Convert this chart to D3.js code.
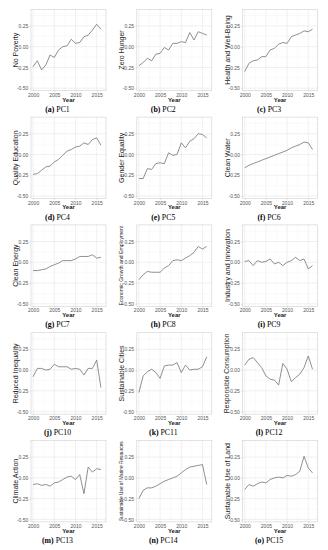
<!DOCTYPE html>
<html><head><meta charset="utf-8">
<script src="https://cdn.jsdelivr.net/npm/d3@7"></script>
<style>body{margin:0;background:#fff}svg{display:block}</style>
</head><body><svg id="c" width="328" height="550"></svg>
<script>
const years = d3.range(2000, 2017);
const axisLabels = ["No Poverty","Zero Hunger","Health and Well-Being","Quality Education","Gender Equality","Clean Water","Clean Energy","Economic Growth and Employment","Industry and Innovation","Reduced Inequality","Sustainable Cities","Responsible Consumption","Climate Action","Sustainable Use of Marine Resources","Sustainable Use of Land"];
const captionLetters = ["(a)","(b)","(c)","(d)","(e)","(f)","(g)","(h)","(i)","(j)","(k)","(l)","(m)","(n)","(o)"];
const captionNames = ["PC1","PC2","PC3","PC4","PC5","PC6","PC7","PC8","PC9","PC10","PC11","PC12","PC13","PC14","PC15"];
const pc1 = [-0.24,-0.17,-0.28,-0.22,-0.10,-0.13,-0.04,0.00,0.01,0.09,0.04,0.05,0.12,0.14,0.20,0.27,0.21];
const pc2 = [-0.23,-0.19,-0.14,-0.17,-0.09,-0.08,-0.01,-0.04,0.04,0.04,0.06,0.05,0.17,0.08,0.18,0.16,0.14];
const pc3 = [-0.30,-0.20,-0.17,-0.16,-0.12,-0.12,-0.04,-0.02,0.03,0.05,0.04,0.12,0.14,0.16,0.19,0.18,0.21];
const pc4 = [-0.24,-0.23,-0.19,-0.15,-0.14,-0.09,-0.06,-0.01,0.04,0.06,0.09,0.10,0.14,0.12,0.18,0.20,0.11];
const pc5 = [-0.29,-0.29,-0.17,-0.18,-0.11,-0.10,-0.11,0.02,-0.01,0.00,0.14,0.08,0.16,0.19,0.25,0.24,0.20];
const pc6 = [-0.16,-0.13,-0.11,-0.09,-0.07,-0.05,-0.03,-0.01,0.01,0.03,0.05,0.08,0.10,0.12,0.15,0.14,0.06];
const pc7 = [-0.10,-0.10,-0.09,-0.08,-0.05,-0.03,-0.01,0.02,0.02,0.02,0.04,0.07,0.07,0.07,0.09,0.05,0.06];
const pc8 = [-0.21,-0.15,-0.11,-0.12,-0.12,-0.12,-0.07,-0.04,0.02,0.03,0.02,0.05,0.08,0.12,0.19,0.16,0.19];
const pc9 = [0.01,0.02,-0.04,0.02,0.00,0.01,0.04,-0.02,0.00,-0.04,0.00,0.02,0.06,0.02,0.04,-0.08,-0.04];
const pc10 = [-0.08,0.02,0.02,0.00,0.01,0.07,0.04,0.04,0.04,0.01,0.02,0.01,-0.06,0.02,0.02,0.12,-0.21];
const pc11 = [-0.27,-0.07,-0.02,0.01,-0.03,-0.10,0.05,0.06,0.06,0.09,-0.03,0.06,0.00,0.01,0.01,0.04,0.16];
const pc12 = [0.06,0.13,0.15,0.09,0.03,-0.07,-0.11,-0.12,-0.18,0.08,0.01,-0.14,-0.09,-0.05,0.03,0.17,0.01];
const pc13 = [-0.08,-0.07,-0.09,-0.08,-0.10,-0.06,-0.05,-0.02,0.01,0.02,-0.02,0.04,-0.19,0.13,0.07,0.11,0.10];
const pc14 = [-0.25,-0.15,-0.12,-0.12,-0.10,-0.07,-0.04,-0.02,0.00,0.02,0.06,0.10,0.13,0.14,0.15,0.16,-0.08];
const pc15 = [-0.14,-0.08,-0.10,-0.07,-0.05,-0.06,-0.02,0.00,0.01,0.00,0.03,0.02,0.04,0.08,0.26,0.12,0.06];
const series = [pc1,pc2,pc3,pc4,pc5,pc6,pc7,pc8,pc9,pc10,pc11,pc12,pc13,pc14,pc15];
const yTicks = [-0.5,-0.25,0,0.25];
const yMinor = [-0.375,-0.125,0.125,0.375];
const xTicks = [2000,2005,2010,2015];
const xMinor = [2002.5,2007.5,2012.5];

const svg = d3.select("#c");
const W = 75, H = 81.4;
const sans = "'Liberation Sans', Arial, sans-serif";
series.forEach((vals, i) => {
  const col = i % 3, row = Math.floor(i / 3);
  const left = 31 + col * 105.8, top = 9.3 + row * 107.8;
  const x = d3.scaleLinear().domain([1999.5, 2017.2]).range([left, left + W]);
  const y = d3.scaleLinear().domain([-0.53, 0.45]).range([top + H, top]);
  const g = svg.append("g");
  g.append("g").selectAll("line").data(yMinor).join("line")
    .attr("x1", left).attr("x2", left + W).attr("y1", d => y(d)).attr("y2", d => y(d))
    .attr("stroke", "#f3f3f3").attr("stroke-width", 0.4);
  g.append("g").selectAll("line").data(xMinor).join("line")
    .attr("y1", top).attr("y2", top + H).attr("x1", d => x(d)).attr("x2", d => x(d))
    .attr("stroke", "#f3f3f3").attr("stroke-width", 0.4);
  g.append("g").selectAll("line").data(yTicks).join("line")
    .attr("x1", left).attr("x2", left + W).attr("y1", d => y(d)).attr("y2", d => y(d))
    .attr("stroke", "#e6e6e6").attr("stroke-width", 0.6);
  g.append("g").selectAll("line").data(xTicks).join("line")
    .attr("y1", top).attr("y2", top + H).attr("x1", d => x(d)).attr("x2", d => x(d))
    .attr("stroke", "#e6e6e6").attr("stroke-width", 0.6);
  g.append("rect").attr("x", left).attr("y", top).attr("width", W).attr("height", H)
    .attr("fill", "none").attr("stroke", "#d0d0d0").attr("stroke-width", 0.6);
  const ya = d3.axisLeft(y).tickValues(yTicks).tickFormat(d => d.toFixed(2)).tickSize(1.5).tickPadding(1.2);
  const yg = g.append("g").attr("transform", `translate(${left},0)`).call(ya);
  const xa = d3.axisBottom(x).tickValues(xTicks).tickFormat(d3.format("d")).tickSize(1.5).tickPadding(1);
  const xg = g.append("g").attr("transform", `translate(0,${top + H})`).call(xa);
  [yg, xg].forEach(a => {
    a.select(".domain").remove();
    a.selectAll(".tick line").attr("stroke", "#c8c8c8").attr("stroke-width", 0.5);
    a.selectAll(".tick text").attr("fill", "#555").style("font-family", sans).style("font-size", "5px");
  });
  xg.selectAll(".tick text").attr("dy", "0.71em");
  const line = d3.line().x((d, j) => x(years[j])).y(d => y(d));
  g.append("path").datum(vals).attr("d", line).attr("fill", "none")
    .attr("stroke", "#747474").attr("stroke-width", 0.8).attr("stroke-linejoin", "round");
  const lab = g.append("text")
    .attr("x", -(top + H / 2)).attr("y", left - 15.5)
    .attr("transform", "rotate(-90)")
    .attr("text-anchor", "middle").attr("dy", "0.35em")
    .style("font-family", sans).style("font-size", "7px")
    .attr("fill", "#1a1a1a").text(axisLabels[i]);
  const len = lab.node().getComputedTextLength();
  if (len > 80) lab.style("font-size", (7 * 80 / len) + "px");
  g.append("text").attr("x", left + W / 2).attr("y", top + 92.2).attr("text-anchor", "middle")
    .style("font-family", sans).style("font-size", "6px").style("font-weight", "bold")
    .attr("fill", "#1a1a1a").text("Year");
  const cap = g.append("text").attr("x", left + W / 2 - 11).attr("y", top + 102.5).attr("text-anchor", "middle")
    .style("font-family", "'Liberation Serif', 'Times New Roman', serif").style("font-size", "7.8px").attr("fill", "#000");
  cap.append("tspan").style("font-weight", "bold").text(captionLetters[i]);
  cap.append("tspan").text(" " + captionNames[i]);
});
</script></body></html>
